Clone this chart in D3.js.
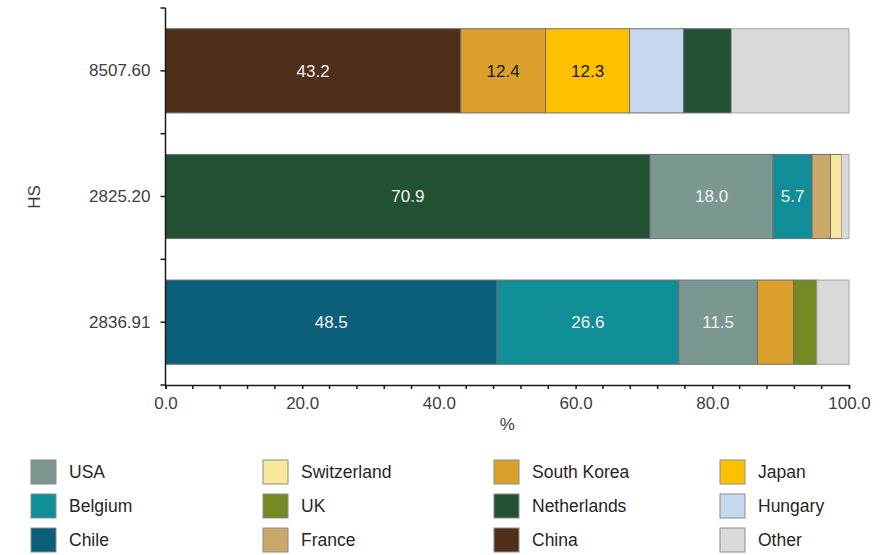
<!DOCTYPE html>
<html>
<head>
<meta charset="utf-8">
<script src="https://cdn.jsdelivr.net/npm/d3@7"></script>
<style>
  html, body { margin: 0; padding: 0; background: #ffffff; }
  svg { display: block; font-family: "Liberation Sans", Arial, sans-serif; }
</style>
</head>
<body>
<svg id="chart" width="884" height="555"></svg>
<script>
// HS product codes (top to bottom)
const categories = ["8507.60", "2825.20", "2836.91"];

// Legend entries, column by column
const countries = ["USA", "Belgium", "Chile", "Switzerland", "UK", "France",
                   "South Korea", "Netherlands", "China", "Japan", "Hungary", "Other"];
const countryColors = ["#7b9791", "#0f8e97", "#0c5f7b", "#f7e89b", "#748a23", "#c9a86a",
                       "#dba02b", "#225233", "#4f2f19", "#ffc000", "#c6d9f0", "#d9d9d9"];

// Segments of each bar, left to right (% share)
const segNames = [
  ["China", "South Korea", "Japan", "Hungary", "Netherlands", "Other"],
  ["Netherlands", "USA", "Belgium", "France", "Switzerland", "Other"],
  ["Chile", "Belgium", "USA", "South Korea", "UK", "Other"]
];
const segValues = [
  [43.2, 12.4, 12.3, 7.9, 7.0, 17.2],
  [70.9, 18.0, 5.7, 2.7, 1.6, 1.1],
  [48.5, 26.6, 11.5, 5.3, 3.4, 4.7]
];
const segLabelled = [
  [true, true, true, false, false, false],
  [true, true, true, false, false, false],
  [true, true, true, false, false, false]
];

const xTicks = [0, 20, 40, 60, 80, 100];

const svg = d3.select("#chart");
const plotLeft = 165.5, plotRight = 849, plotTop = 8, plotBottom = 385;

const color = d3.scaleOrdinal().domain(countries).range(countryColors);
const x = d3.scaleLinear().domain([0, 100]).range([plotLeft, plotRight]);
const y = d3.scaleBand().domain(categories).range([plotTop, plotBottom])
  .paddingInner(0.33).paddingOuter(0.165);

const darkText = new Set(["Japan", "South Korea"]);

// Bars
categories.forEach((cat, i) => {
  const ends = Array.from(d3.cumsum(segValues[i]));
  const segs = segNames[i].map((n, j) => ({
    name: n, value: segValues[i][j], x0: ends[j] - segValues[i][j], x1: ends[j], label: segLabelled[i][j]
  }));
  const g = svg.append("g");
  g.selectAll("rect").data(segs).join("rect")
    .attr("x", d => x(d.x0))
    .attr("y", y(cat))
    .attr("width", d => x(d.x1) - x(d.x0))
    .attr("height", y.bandwidth())
    .attr("fill", d => color(d.name))
    .attr("stroke", d => d.name === "Other" ? "#a6a6a6" : "#6f6f6f")
    .attr("stroke-width", 1);
  g.selectAll("text").data(segs.filter(d => d.label)).join("text")
    .attr("x", d => x((d.x0 + d.x1) / 2))
    .attr("y", y(cat) + y.bandwidth() / 2)
    .attr("dy", "0.35em")
    .attr("text-anchor", "middle")
    .attr("font-size", 17)
    .attr("fill", d => darkText.has(d.name) ? "#1a1a1a" : "#f2f2f2")
    .text(d => d3.format(".1f")(d.value));
});

// Y axis
const yAxis = svg.append("g").attr("transform", `translate(${plotLeft},0)`)
  .call(d3.axisLeft(y).tickSize(5).tickPadding(10));
yAxis.select(".domain").remove();
yAxis.selectAll(".tick line").attr("stroke", "#1a1a1a").attr("stroke-width", 1.5);
yAxis.selectAll(".tick text").attr("font-size", 17).attr("fill", "#404040")
  .style("font-family", "Liberation Sans, Arial, sans-serif");
// tick marks at band boundaries
const bounds = d3.range(categories.length + 1)
  .map(k => plotTop + k * (plotBottom - plotTop) / categories.length);
svg.append("g").selectAll("line").data(bounds).join("line")
  .attr("x1", plotLeft - 5).attr("x2", plotLeft).attr("y1", d => d).attr("y2", d => d)
  .attr("stroke", "#1a1a1a").attr("stroke-width", 1.5);
svg.append("line").attr("x1", plotLeft).attr("x2", plotLeft).attr("y1", plotTop).attr("y2", plotBottom)
  .attr("stroke", "#1a1a1a").attr("stroke-width", 1.5);

// X axis
const xAxis = svg.append("g").attr("transform", `translate(0,${plotBottom})`)
  .call(d3.axisBottom(x).tickValues(xTicks).tickSize(4).tickPadding(8).tickFormat(d3.format(".1f")));
xAxis.select(".domain").attr("stroke", "#1a1a1a").attr("stroke-width", 1.5);
xAxis.selectAll(".tick line").attr("stroke", "#1a1a1a").attr("stroke-width", 1.5);
xAxis.selectAll(".tick text").attr("font-size", 17).attr("fill", "#404040")
  .style("font-family", "Liberation Sans, Arial, sans-serif");
svg.append("g").attr("transform", `translate(0,${plotBottom})`)
  .selectAll("line").data(d3.range(0, 101, 4).filter(v => v % 20 !== 0)).join("line")
  .attr("x1", d => x(d)).attr("x2", d => x(d)).attr("y1", 0).attr("y2", 4)
  .attr("stroke", "#1a1a1a").attr("stroke-width", 1.5);

// Axis titles
svg.append("text").attr("x", (plotLeft + plotRight) / 2).attr("y", 430)
  .attr("text-anchor", "middle").attr("font-size", 17).attr("fill", "#404040").text("%");
svg.append("text").attr("transform", `translate(40,197) rotate(-90)`)
  .attr("text-anchor", "middle").attr("font-size", 17).attr("fill", "#404040").text("HS");

// Legend: 4 columns x 3 rows
const colX = [31, 263, 494, 720];
const rowY = [460, 494, 528];
const legend = svg.append("g").selectAll("g").data(countries).join("g")
  .attr("transform", (d, i) => `translate(${colX[Math.floor(i / 3)]},${rowY[i % 3]})`);
legend.append("rect").attr("width", 25).attr("height", 24)
  .attr("fill", d => color(d)).attr("stroke", "#8c8c8c").attr("stroke-width", 1);
legend.append("text").attr("x", 38).attr("y", 12).attr("dy", "0.35em")
  .attr("font-size", 17.5).attr("fill", "#262626").text(d => d);
</script>
</body>
</html>
